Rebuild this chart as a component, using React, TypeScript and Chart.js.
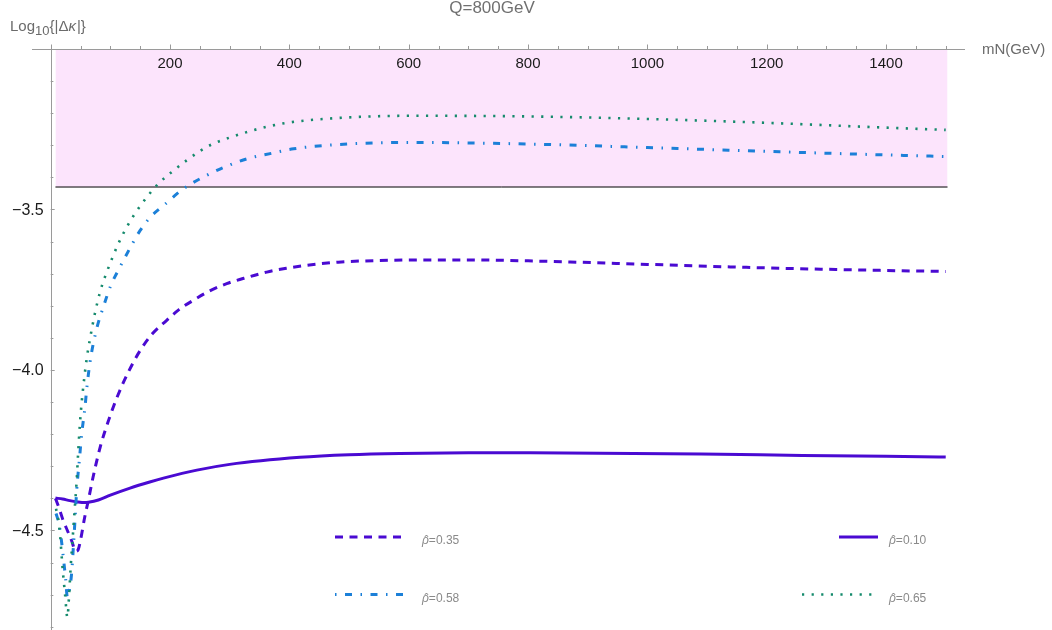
import { useEffect, useRef } from 'react';
import { Chart, registerables } from 'chart.js';

Chart.register(...registerables);

const FONT = '"Liberation Sans", Arial, Helvetica, sans-serif';

// mN (GeV) samples and log10|Δκ| for each ρ̂
const mNRho010 = [8, 20, 32, 45, 57, 63, 80, 100, 133, 166, 189, 245, 300, 418, 500, 585, 700, 800, 920, 1090, 1260, 1400, 1500];
const kRho010 = [-4.399, -4.402, -4.407, -4.411, -4.413, -4.412, -4.405, -4.390, -4.368, -4.349, -4.337, -4.312, -4.294, -4.272, -4.264, -4.260, -4.258, -4.258, -4.259, -4.262, -4.266, -4.269, -4.271];

const mNRho035 = [8, 14, 21, 28, 35, 42, 46, 50, 57, 63, 71, 83, 97, 113, 130, 150, 170, 194, 215, 239, 265, 295, 330, 362, 395, 429, 482, 550, 620, 700, 800, 1000, 1200, 1400, 1500];
const kRho035 = [-4.400, -4.430, -4.469, -4.500, -4.531, -4.565, -4.560, -4.530, -4.459, -4.407, -4.334, -4.240, -4.157, -4.077, -4.007, -3.939, -3.888, -3.846, -3.812, -3.783, -3.755, -3.731, -3.711, -3.695, -3.683, -3.674, -3.664, -3.659, -3.657, -3.657, -3.660, -3.671, -3.682, -3.690, -3.693];

const mNRho058 = [9, 14, 18, 21, 25, 28, 31, 35, 38, 40.7, 43.6, 48, 52, 57.5, 61, 66, 71.4, 79, 88.2, 100, 116, 133, 150, 169, 189, 222, 261, 295, 329, 370, 407, 479, 600, 800, 1000, 1200, 1400, 1500];
const kRho058 = [-4.447, -4.480, -4.531, -4.580, -4.650, -4.708, -4.690, -4.635, -4.552, -4.469, -4.375, -4.282, -4.199, -4.116, -4.048, -3.975, -3.918, -3.858, -3.804, -3.740, -3.680, -3.620, -3.565, -3.520, -3.488, -3.436, -3.394, -3.365, -3.342, -3.325, -3.311, -3.298, -3.291, -3.296, -3.307, -3.319, -3.330, -3.335];

const mNRho065 = [9, 13, 16, 18.4, 21, 24, 28, 31, 33.5, 37, 40, 43.6, 46, 49, 52, 54.6, 60, 65.9, 74, 82.6, 91, 99.4, 113, 127.4, 144, 160.9, 180.3, 205, 227.9, 250, 272.5, 300, 334, 365, 395.5, 473, 600, 800, 1000, 1200, 1400, 1500];
const kRho065 = [-4.432, -4.470, -4.520, -4.580, -4.640, -4.697, -4.770, -4.697, -4.614, -4.520, -4.440, -4.344, -4.260, -4.168, -4.100, -4.053, -3.970, -3.903, -3.825, -3.758, -3.710, -3.669, -3.608, -3.555, -3.505, -3.462, -3.420, -3.380, -3.347, -3.318, -3.295, -3.276, -3.256, -3.241, -3.230, -3.216, -3.208, -3.210, -3.218, -3.230, -3.245, -3.252];

// shaded bound: log10|Δκ| above this level
const boundMN = [8, 1503];
const boundLevel = -3.43;

const rhoValues = ['0.35', '0.58', '0.10', '0.65'];

const xMajorTicks = [200, 400, 600, 800, 1000, 1200, 1400];
const yMajorTicks = [-3.5, -4.0, -4.5];
const yMajorLabels = ['−3.5', '−4.0', '−4.5'];

const titleText = 'Q=800GeV';
const xAxisTitle = 'mN(GeV)';

const PURPLE = '#4a0ad2';
const BLUE = '#1c80d8';
const TEAL = '#158a6c';
const PINK = 'rgb(252,228,252)';
const AXIS = '#9a9a9a';

const pts = (xs: number[], ys: number[]) => xs.map((x, i) => ({ x, y: ys[i] }));

const decorPlugin = {
  id: 'decor',
  afterDatasetsDraw(chart: any) {
    const ctx = chart.ctx as CanvasRenderingContext2D;
    const xs = chart.scales.x;
    const ys = chart.scales.y;
    const x0 = xs.getPixelForValue(0);
    const yTop = ys.getPixelForValue(-3.0);
    const area = chart.chartArea;

    ctx.save();
    // axis lines
    ctx.strokeStyle = AXIS;
    ctx.lineWidth = 1;
    ctx.beginPath();
    ctx.moveTo(area.left, Math.round(yTop) + 0.5);
    ctx.lineTo(area.right, Math.round(yTop) + 0.5);
    ctx.moveTo(Math.round(x0) + 0.5, yTop - 2);
    ctx.lineTo(Math.round(x0) + 0.5, area.bottom);
    ctx.stroke();

    // x ticks every 50, longer on labelled values
    ctx.beginPath();
    for (let v = 0; v <= 1500; v += 50) {
      const px = Math.round(xs.getPixelForValue(v)) + 0.5;
      const len = v % 200 === 0 ? 4.5 : 3;
      ctx.moveTo(px, yTop);
      ctx.lineTo(px, yTop - len);
    }
    // y ticks every 0.1
    for (let i = 0; i <= 18; i++) {
      const v = -3.0 - i * 0.1;
      const py = Math.round(ys.getPixelForValue(v)) + 0.5;
      const len = i % 5 === 0 ? 4 : 2.7;
      ctx.moveTo(x0, py);
      ctx.lineTo(x0 + len, py);
    }
    ctx.stroke();

    // tick labels
    ctx.fillStyle = '#1a1a1a';
    ctx.font = `15px ${FONT}`;
    ctx.textAlign = 'center';
    ctx.textBaseline = 'middle';
    xMajorTicks.forEach((v) => {
      ctx.fillText(String(v), xs.getPixelForValue(v), yTop + 15);
    });
    ctx.textAlign = 'right';
    ctx.font = `16px ${FONT}`;
    yMajorTicks.forEach((v, i) => {
      ctx.fillText(yMajorLabels[i], x0 - 7, ys.getPixelForValue(v) + 1);
    });

    // axis titles
    ctx.fillStyle = '#6b6b6b';
    ctx.textAlign = 'left';
    ctx.textBaseline = 'alphabetic';
    ctx.font = `15px ${FONT}`;
    ctx.fillText(xAxisTitle, area.right + 17, yTop + 5);

    let cx = 10;
    ctx.font = `15px ${FONT}`;
    ctx.fillText('Log', cx, 31);
    cx += ctx.measureText('Log').width;
    ctx.font = `13px ${FONT}`;
    ctx.fillText('10', cx, 35);
    cx += ctx.measureText('10').width;
    ctx.font = `15px ${FONT}`;
    ctx.fillText('{|Δ', cx, 31);
    cx += ctx.measureText('{|Δ').width;
    ctx.font = `italic 15px ${FONT}`;
    ctx.fillText('κ', cx, 31);
    cx += ctx.measureText('κ').width;
    ctx.font = `15px ${FONT}`;
    ctx.fillText('|}', cx + 1, 31);

    // title
    ctx.fillStyle = '#707070';
    ctx.font = `17px ${FONT}`;
    ctx.textAlign = 'center';
    ctx.fillText(titleText, 492, 13);

    // legend
    const entries = [
      { dash: [8, 6.5], color: PURPLE, w: 3, x1: 335, x2: 404, y: 537 },
      { dash: [1.5, 8.5, 7, 8.5], color: BLUE, w: 3, x1: 335, x2: 404, y: 594.5 },
      { dash: [], color: PURPLE, w: 3, x1: 839, x2: 878, y: 537 },
      { dash: [2.2, 7.4], color: TEAL, w: 2.6, x1: 802, x2: 873, y: 594.5 },
    ];
    const textX = [422, 422, 889, 889];
    entries.forEach((e, i) => {
      ctx.strokeStyle = e.color;
      ctx.lineWidth = e.w;
      ctx.lineCap = 'butt';
      ctx.setLineDash(e.dash);
      ctx.beginPath();
      ctx.moveTo(e.x1, e.y);
      ctx.lineTo(e.x2, e.y);
      ctx.stroke();
      ctx.setLineDash([]);

      // ρ̂ label: italic rho with a hat, then the value
      const ty = e.y + 7;
      let tx = textX[i];
      ctx.fillStyle = '#8a8a8a';
      ctx.textAlign = 'left';
      ctx.textBaseline = 'alphabetic';
      ctx.font = `italic 12px ${FONT}`;
      const rw = ctx.measureText('ρ').width;
      ctx.fillText('ρ', tx, ty);
      ctx.textAlign = 'center';
      ctx.font = `12px ${FONT}`;
      ctx.fillText('ˆ', tx + rw / 2 + 1, ty + 1);
      ctx.textAlign = 'left';
      tx += rw;
      ctx.font = `12px ${FONT}`;
      ctx.fillText('=' + rhoValues[i], tx, ty);
    });
    ctx.restore();
  },
};

export default function App() {
  const ref = useRef<HTMLCanvasElement | null>(null);

  useEffect(() => {
    if (!ref.current) return;
    const common = { pointRadius: 0, cubicInterpolationMode: 'monotone' as const, fill: false, borderCapStyle: 'butt' as const };
    const chart = new Chart(ref.current, {
      type: 'line',
      data: {
        datasets: [
          { ...common, data: pts(mNRho065, kRho065), borderColor: TEAL, borderWidth: 2.6, borderDash: [2.2, 7.4] },
          { ...common, data: pts(mNRho058, kRho058), borderColor: BLUE, borderWidth: 3, borderDash: [7, 8.5, 1.5, 8.5] },
          { ...common, data: pts(mNRho035, kRho035), borderColor: PURPLE, borderWidth: 3, borderDash: [8, 6.5] },
          { ...common, data: pts(mNRho010, kRho010), borderColor: PURPLE, borderWidth: 3 },
          {
            ...common,
            data: pts(boundMN, [boundLevel, boundLevel]),
            borderColor: '#000',
            borderWidth: 1,
            fill: 'end',
            backgroundColor: PINK,
          },
        ],
      },
      options: {
        responsive: false,
        animation: false,
        layout: { padding: { left: 32, right: 87, top: 49, bottom: 0 } },
        plugins: { legend: { display: false }, tooltip: { enabled: false }, title: { display: false } },
        scales: {
          x: { type: 'linear', min: -31.3, max: 1532.3, display: false },
          y: { type: 'linear', min: -4.81, max: -3.0, display: false },
        },
      },
      plugins: [decorPlugin],
    });
    return () => chart.destroy();
  }, []);

  return (
    <div style={{ position: 'fixed', left: 0, top: 0, width: 1052, height: 630, background: '#fff' }}>
      <canvas ref={ref} width={1052} height={630} style={{ width: 1052, height: 630 }} />
    </div>
  );
}
